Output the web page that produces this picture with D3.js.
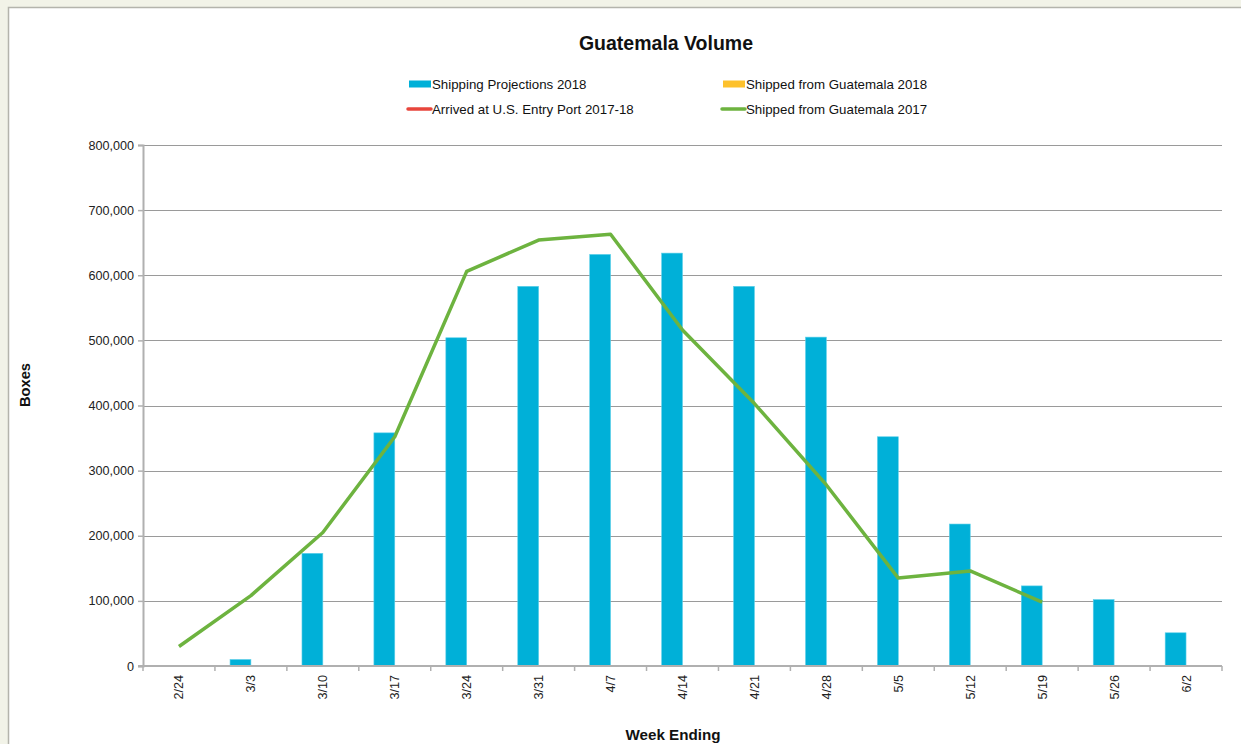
<!DOCTYPE html>
<html>
<head>
<meta charset="utf-8">
<script src="https://cdn.jsdelivr.net/npm/d3@7"></script>
<style>
  html, body { margin: 0; padding: 0; background: #f2f3e8; }
  svg { display: block; font-family: "Liberation Sans", Arial, Helvetica, sans-serif; }
</style>
</head>
<body>
<svg id="chart" width="1241" height="744"></svg>
<script>
const categories = ["2/24","3/3","3/10","3/17","3/24","3/31","4/7","4/14","4/21","4/28","5/5","5/12","5/19","5/26","6/2"];
const projections2018 = [0, 10000, 173000, 358000, 504000, 583000, 632000, 634000, 583000, 505000, 352000, 218000, 123000, 102000, 51000];
const shipped2018 = [null, null, null, null, null, null, null, null, null, null, null, null, null, null, null];
const arrived2017_18 = [];
const shipped2017 = [30000, 108000, 205000, 352000, 606000, 654000, 663000, 516000, 403000, 278000, 135000, 146000, 98000, null, null];
const yTicks = [0, 100000, 200000, 300000, 400000, 500000, 600000, 700000, 800000];
const legendItems = [
  { name: "Shipping Projections 2018", color: "#00b0d8", type: "bar" },
  { name: "Shipped from Guatemala 2018", color: "#fdc12c", type: "bar" },
  { name: "Arrived at U.S. Entry Port 2017-18", color: "#e8453c", type: "line" },
  { name: "Shipped from Guatemala 2017", color: "#6db33f", type: "line" }
];

const svg = d3.select("#chart");
// white panel
svg.append("rect").attr("x", 8.5).attr("y", 7.5).attr("width", 1300).attr("height", 800)
  .attr("fill", "#ffffff").attr("stroke", "#b4b4ac").attr("stroke-width", 1.5);

const m = { left: 143, right: 1222, top: 145, bottom: 666 };
const x = d3.scaleBand().domain(categories).range([m.left, m.right]).paddingInner(0).paddingOuter(0);
const y = d3.scaleLinear().domain([0, 800000]).range([m.bottom, m.top]);
const barW = x.bandwidth() * 0.29;

// gridlines
svg.append("g").selectAll("line").data(yTicks.filter(d => d > 0)).join("line")
  .attr("x1", m.left).attr("x2", m.right)
  .attr("y1", d => Math.round(y(d)) + 0.5).attr("y2", d => Math.round(y(d)) + 0.5)
  .attr("stroke", "#9a9a9a").attr("stroke-width", 1);

// y axis
const yAxis = svg.append("g").attr("transform", `translate(${m.left},0)`)
  .call(d3.axisLeft(y).tickValues(yTicks).tickSize(5).tickPadding(4).tickFormat(d3.format(",")));
yAxis.select(".domain").attr("stroke", "#b0b0b0").attr("stroke-width", 2);
yAxis.selectAll(".tick line").attr("stroke", "#b0b0b0").attr("stroke-width", 1.5);
yAxis.selectAll(".tick text").attr("font-size", 12.6).attr("fill", "#222")
  .attr("font-family", "Liberation Sans, Arial, sans-serif");

// bars
svg.append("g").selectAll("rect").data(categories).join("rect")
  .attr("x", d => x(d) + x.bandwidth() / 2 - barW)
  .attr("y", (d, i) => y(projections2018[i]))
  .attr("width", barW)
  .attr("height", (d, i) => y(0) - y(projections2018[i]))
  .attr("fill", "#00b0d8")
  .attr("stroke", "#5fd0ea").attr("stroke-width", 0.6)
  .attr("display", (d, i) => projections2018[i] > 0 ? null : "none");

svg.append("g").selectAll("rect").data(categories.filter((d, i) => shipped2018[i] != null)).join("rect")
  .attr("x", d => x(d) + x.bandwidth() / 2)
  .attr("y", d => y(shipped2018[categories.indexOf(d)]))
  .attr("width", barW)
  .attr("height", d => y(0) - y(shipped2018[categories.indexOf(d)]))
  .attr("fill", "#fdc12c");

// x axis
const xAxis = svg.append("g").attr("transform", `translate(0,${m.bottom})`);
xAxis.append("line").attr("x1", m.left - 5).attr("x2", m.right).attr("y1", 0).attr("y2", 0)
  .attr("stroke", "#b0b0b0").attr("stroke-width", 2);
xAxis.selectAll("line.tk").data(d3.range(categories.length + 1)).join("line").attr("class", "tk")
  .attr("x1", i => m.left + i * x.bandwidth()).attr("x2", i => m.left + i * x.bandwidth())
  .attr("y1", 0).attr("y2", 5).attr("stroke", "#b0b0b0").attr("stroke-width", 1.5);
xAxis.selectAll("text").data(categories).join("text")
  .attr("transform", d => `translate(${x(d) + x.bandwidth() / 2 + 4.5},9) rotate(-90)`)
  .attr("text-anchor", "end")
  .attr("font-size", 12.6).attr("fill", "#222")
  .text(d => d);

// line
const line = d3.line()
  .defined(d => d[1] != null)
  .x(d => x(d[0]) + x.bandwidth() / 2)
  .y(d => y(d[1]));
svg.append("path").datum(categories.map((c, i) => [c, shipped2017[i]]))
  .attr("d", line).attr("fill", "none")
  .attr("stroke", "#6db33f").attr("stroke-width", 3.5).attr("stroke-linejoin", "round");

// title
svg.append("text").attr("x", 666).attr("y", 50).attr("text-anchor", "middle")
  .attr("font-size", 19.5).attr("font-weight", "bold").attr("fill", "#111").text("Guatemala Volume");

// legend
const legPos = [[409, 84], [723, 84], [409, 109], [723, 109]];
legendItems.forEach((it, i) => {
  const [lx, ly] = legPos[i];
  if (it.type === "bar") {
    svg.append("rect").attr("x", lx).attr("y", ly - 3.5).attr("width", 22).attr("height", 7).attr("fill", it.color);
  } else {
    svg.append("line").attr("x1", lx - 1).attr("x2", lx + 22).attr("y1", ly).attr("y2", ly)
      .attr("stroke", it.color).attr("stroke-width", 3.5).attr("stroke-linecap", "round");
  }
  svg.append("text").attr("x", lx + 23).attr("y", ly + 4.8).attr("font-size", 13.3).attr("fill", "#111").text(it.name);
});

// axis titles
svg.append("text").attr("transform", "translate(30,385) rotate(-90)").attr("text-anchor", "middle")
  .attr("font-size", 14.7).attr("font-weight", "bold").attr("fill", "#111").text("Boxes");
svg.append("text").attr("x", 673).attr("y", 740).attr("text-anchor", "middle")
  .attr("font-size", 15.2).attr("font-weight", "bold").attr("fill", "#111").text("Week Ending");
</script>
</body>
</html>
